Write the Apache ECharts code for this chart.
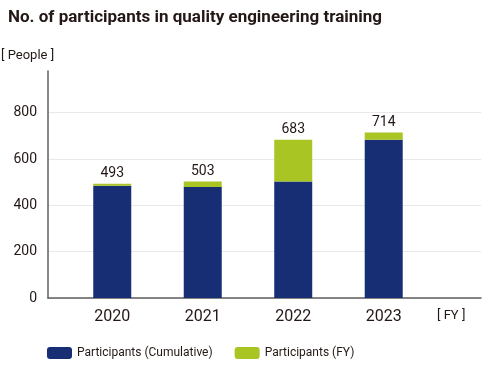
<!DOCTYPE html>
<html><head><meta charset="utf-8">
<script src="https://cdn.jsdelivr.net/npm/echarts@6/dist/echarts.min.js"></script>
<style>html,body{margin:0;padding:0;background:#fff}#c{width:500px;height:370px}</style>
</head><body><div id="c"></div>
<script>
const years = [2020, 2021, 2022, 2023];
const yearLabels = ['2020', '2021', '2022', '2023'];
const cumulative = [485, 479, 503, 683];
const fiscalYear = [8, 24, 180, 31];
const totals = [493, 503, 683, 714];
const yTicks = [0, 200, 400, 600, 800];

const BLUE = '#172e75', GREEN = '#a8c523', TXT = '#231815';
const chart = echarts.init(document.getElementById('c'), null, {renderer: 'canvas'});
chart.setOption({
  animation: false,
  textStyle: {fontFamily: 'Roboto'},
  title: {text: 'No. of participants in quality engineering training', left: 3, top: 4,
    textStyle: {fontSize: 17, fontWeight: 'bold', color: TXT, fontFamily: 'Roboto'}},
  legend: {bottom: 6, left: 42, itemWidth: 25, itemHeight: 12, itemGap: 22,
    textStyle: {fontSize: 12, color: TXT, fontFamily: 'Roboto'},
    data: ['Participants (Cumulative)', 'Participants (FY)']},
  grid: {left: 48, right: 19, top: 71, bottom: 72},
  xAxis: {type: 'value', min: 2019.29, max: 2024.075,
    splitLine: {show: false}, axisTick: {show: false},
    axisLine: {show: true, lineStyle: {color: '#5f5f5f', width: 1.5}},
    axisLabel: {customValues: years, formatter: v => yearLabels[years.indexOf(Math.round(v))] || '',
      fontSize: 16, color: TXT, margin: 11}},
  yAxis: {type: 'value', min: 0, max: 980, interval: 200,
    axisLine: {show: true, lineStyle: {color: '#5f5f5f', width: 1.5}},
    axisTick: {show: false},
    splitLine: {show: true, lineStyle: {color: ['#e9e9e9','#e9e9e9','#e9e9e9','#e9e9e9','#e9e9e9','rgba(0,0,0,0)'], width: 1}},
    axisLabel: {customValues: yTicks, fontSize: 14, color: TXT, margin: 11}},
  graphic: [
    {type: 'text', left: 1, top: 49, style: {text: '[ People ]', fontSize: 13, fill: TXT, fontFamily: 'Roboto'}},
    {type: 'text', left: 437, top: 309, style: {text: '[ FY ]', fontSize: 13, fill: TXT, fontFamily: 'Roboto'}}
  ],
  series: [
    {name: 'Participants (Cumulative)', type: 'bar', stack: 't', barWidth: 38,
      dimensions: ['count', 'year'], encode: {x: 'year', y: 'count'},
      itemStyle: {color: BLUE}, data: years.map((y, i) => [cumulative[i], y])},
    {name: 'Participants (FY)', type: 'bar', stack: 't', barWidth: 38,
      dimensions: ['count', 'year'], encode: {x: 'year', y: 'count'},
      itemStyle: {color: GREEN}, data: years.map((y, i) => [fiscalYear[i], y]),
      label: {show: true, position: 'top', distance: 3, fontSize: 14, color: TXT,
        formatter: p => String(totals[p.dataIndex])}}
  ]
});
</script></body></html>
